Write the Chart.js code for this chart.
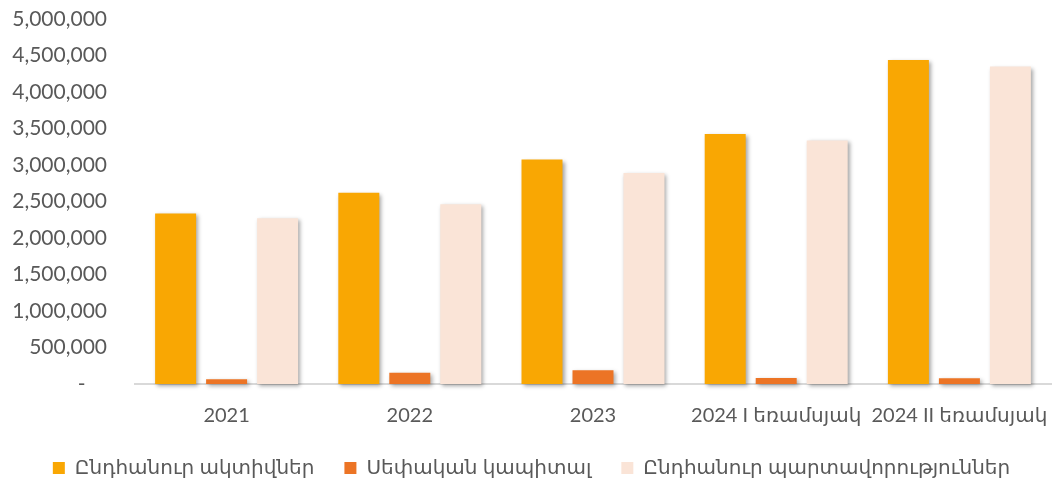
<!DOCTYPE html>
<html>
<head>
<meta charset="utf-8">
<script src="https://cdn.jsdelivr.net/npm/chart.js@4"></script>
<style>
  html, body { margin: 0; padding: 0; background: #fff; }
  .chart-container { width: 1055px; height: 482px; }
</style>
</head>
<body>
<div class="chart-container"><canvas id="chart"></canvas></div>
<script>
const categories = ["2021", "2022", "2023", "2024 I եռամսյակ", "2024 II եռամսյակ"];
const seriesNames = ["Ընդհանուր ակտիվներ", "Սեփական կապիտալ", "Ընդհանուր պարտավորություններ"];
const totalAssets = [2336000, 2620000, 3074000, 3425000, 4440000];
const equity = [66000, 154000, 187000, 82000, 78000];
const totalLiabilities = [2270000, 2463000, 2892000, 3337000, 4348000];
const yTicks = [0, 500000, 1000000, 1500000, 2000000, 2500000, 3000000, 3500000, 4000000, 4500000, 5000000];

const textColor = "#595959";
const fontFamily = "Lato, 'DejaVu Sans', sans-serif";

// soft drop shadow behind the bars, like the office chart
const barShadow = {
  id: "barShadow",
  beforeDatasetsDraw(chart) {
    const c = chart.ctx;
    c.save();
    c.shadowColor = "rgba(0,0,0,0.35)";
    c.shadowBlur = 4;
    c.shadowOffsetX = 2;
    c.shadowOffsetY = 2;
  },
  afterDatasetsDraw(chart) {
    chart.ctx.restore();
  },
};

const ctx = document.getElementById("chart").getContext("2d");

new Chart(ctx, {
  type: "bar",
  data: {
    labels: categories,
    datasets: [
      { label: seriesNames[0], data: totalAssets, backgroundColor: "#F9A703", clip: false },
      { label: seriesNames[1], data: equity, backgroundColor: "#EC7425", clip: false },
      { label: seriesNames[2], data: totalLiabilities, backgroundColor: "#FAE4D7", clip: false },
    ],
  },
  options: {
    responsive: true,
    maintainAspectRatio: false,
    animation: false,
    categoryPercentage: 0.835,
    barPercentage: 0.804,
    layout: { padding: { top: 19, right: 4, left: 12, bottom: -6 } },
    scales: {
      x: {
        grid: { display: false, drawTicks: false },
        border: { color: "#D9D9D9", width: 2 },
        ticks: {
          color: textColor,
          padding: 20,
          maxRotation: 0,
          minRotation: 0,
          autoSkip: false,
          font: { family: fontFamily, size: 20 },
        },
        afterFit(axis) {
          axis.height = 44;
          axis.paddingLeft = 0;
          axis.paddingRight = 0;
        },
      },
      y: {
        min: 0,
        max: 5000000,
        afterBuildTicks(axis) {
          axis.ticks = yTicks.map(v => ({ value: v }));
        },
        afterFit(axis) {
          axis.width = 123;
          axis.paddingTop = 0;
          axis.paddingBottom = 0;
        },
        grid: { display: false, drawTicks: false },
        border: { display: false },
        ticks: {
          color: textColor,
          padding: 28,
          font: { family: fontFamily, size: 21 },
          callback: v => (v === 0 ? "-    " : v.toLocaleString("en-US")),
        },
      },
    },
    plugins: {
      legend: {
        position: "bottom",
        labels: {
          color: textColor,
          boxWidth: 12,
          boxHeight: 12,
          padding: 30,
          font: { family: fontFamily, size: 20 },
        },
      },
      tooltip: { enabled: false },
    },
  },
  plugins: [barShadow],
});
</script>
</body>
</html>
